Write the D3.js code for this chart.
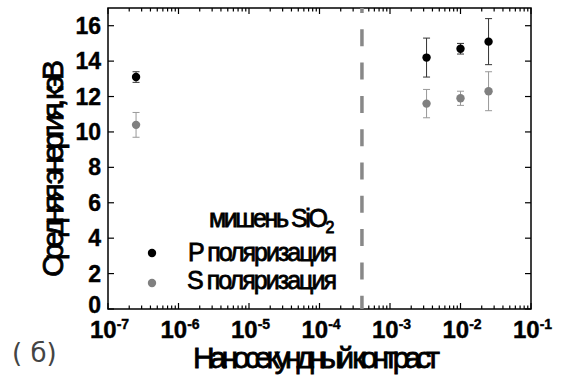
<!DOCTYPE html>
<html>
<head>
<meta charset="utf-8">
<script src="https://cdn.jsdelivr.net/npm/d3@7"></script>
<style>
  body { margin: 0; background: #fff; }
  svg { font-family: 'Liberation Sans', Arial, sans-serif; }
</style>
</head>
<body>
<svg id="chart" width="565" height="383"></svg>
<script>
// contrast values (x) and mean energies (keV)
const contrast = [2.5e-7, 3.3e-3, 1.0e-2, 2.5e-2];
const pEnergy = [13.1, 14.2, 14.7, 15.1];
const pErr = [0.3, 1.1, 0.3, 1.3];
const sEnergy = [10.4, 11.6, 11.9, 12.3];
const sErr = [0.7, 0.8, 0.4, 1.1];
const dividerX = 4e-4;
const yTicks = [0, 2, 4, 6, 8, 10, 12, 14, 16];
const xDecades = [-7, -6, -5, -4, -3, -2, -1];

const svg = d3.select('#chart');
const mLeft = 108, mRight = 531, mTop = 8, mBottom = 309;

const x = d3.scaleLog().domain([1e-7, 1e-1]).range([mLeft, mRight]);
const y = d3.scaleLinear().domain([0, 17]).range([mBottom, mTop]);

// minor ticks on log axis
const minor = [];
xDecades.slice(0, -1).forEach(e => {
  for (let m = 2; m <= 9; m++) minor.push(m * Math.pow(10, e));
});
const major = xDecades.map(e => Math.pow(10, e));

const g = svg.append('g');

// frame
g.append('rect')
  .attr('x', mLeft).attr('y', mTop)
  .attr('width', mRight - mLeft).attr('height', mBottom - mTop)
  .attr('fill', 'none').attr('stroke', '#000').attr('stroke-width', 1.5);

// x ticks bottom + top (inward)
const xt = g.append('g').attr('stroke', '#000').attr('stroke-width', 1.2);
major.forEach(v => {
  xt.append('line').attr('x1', x(v)).attr('x2', x(v)).attr('y1', mBottom).attr('y2', mBottom - 6);
  xt.append('line').attr('x1', x(v)).attr('x2', x(v)).attr('y1', mTop).attr('y2', mTop + 6);
});
minor.forEach(v => {
  xt.append('line').attr('x1', x(v)).attr('x2', x(v)).attr('y1', mBottom).attr('y2', mBottom - 3.5);
  xt.append('line').attr('x1', x(v)).attr('x2', x(v)).attr('y1', mTop).attr('y2', mTop + 3.5);
});

// y ticks left + right
yTicks.forEach(v => {
  xt.append('line').attr('x1', mLeft).attr('x2', mLeft + 6).attr('y1', y(v)).attr('y2', y(v));
  xt.append('line').attr('x1', mRight).attr('x2', mRight - 6).attr('y1', y(v)).attr('y2', y(v));
});

// y tick labels
g.append('g').selectAll('text').data(yTicks).join('text')
  .attr('x', mLeft - 7).attr('y', d => y(d) + (d === 0 ? 4 : 8))
  .attr('text-anchor', 'end')
  .attr('font-size', 23).attr('font-weight', 'bold')
  .attr('stroke', '#000').attr('stroke-width', 0.4)
  .text(d => d);

// x tick labels 10^n
const xl = g.append('g').selectAll('text').data(xDecades).join('text')
  .attr('x', d => x(Math.pow(10, d)) - 18).attr('y', 338)
  .attr('font-size', 24).attr('font-weight', 'bold')
  .attr('stroke', '#000').attr('stroke-width', 0.4);
xl.append('tspan').text('10');
xl.append('tspan').attr('font-size', 14).attr('dy', -9).text(d => d);

// dashed divider
g.append('line')
  .attr('x1', x(dividerX)).attr('x2', x(dividerX))
  .attr('y1', mTop).attr('y2', mBottom)
  .attr('stroke', '#888').attr('stroke-width', 3.5)
  .attr('stroke-dasharray', '17,16.3').attr('stroke-dashoffset', 12);

// series
function drawSeries(vals, errs, color, errColor) {
  const s = g.append('g');
  contrast.forEach((c, i) => {
    const cx = x(c);
    s.append('line').attr('x1', cx).attr('x2', cx)
      .attr('y1', y(vals[i] - errs[i])).attr('y2', y(vals[i] + errs[i]))
      .attr('stroke', errColor).attr('stroke-width', 1);
    [vals[i] - errs[i], vals[i] + errs[i]].forEach(e => {
      s.append('line').attr('x1', cx - 3.5).attr('x2', cx + 3.5)
        .attr('y1', y(e)).attr('y2', y(e))
        .attr('stroke', errColor).attr('stroke-width', 1);
    });
  });
  s.selectAll('circle').data(vals).join('circle')
    .attr('cx', (d, i) => x(contrast[i])).attr('cy', d => y(d))
    .attr('r', 4.2).attr('fill', color);
}
drawSeries(sEnergy, sErr, '#808080', '#999');
drawSeries(pEnergy, pErr, '#000', '#333');

// heavy, tightly spaced text like the original
function tight(sel) {
  return sel.attr('stroke', '#000').attr('stroke-width', 0.8).attr('lengthAdjust', 'spacing');
}

// legend
const leg = g.append('g');
const t0 = leg.append('text').attr('x', 209).attr('y', 227)
  .attr('font-size', 25).attr('letter-spacing', -2.4)
  .attr('stroke', '#000').attr('stroke-width', 0.8);
t0.append('tspan').text('мишень SiO');
t0.append('tspan').attr('font-size', 16).attr('dy', 6).attr('letter-spacing', 0).text('2');
leg.append('circle').attr('cx', 152).attr('cy', 253).attr('r', 4.2).attr('fill', '#000');
leg.append('circle').attr('cx', 152).attr('cy', 283).attr('r', 4.2).attr('fill', '#808080');
tight(leg.append('text').attr('x', 188).attr('y', 261).attr('font-size', 25)
  .attr('textLength', 149)).text('P поляризация');
tight(leg.append('text').attr('x', 187).attr('y', 289).attr('font-size', 25)
  .attr('textLength', 150)).text('S поляризация');

// axis titles
tight(g.append('text').attr('x', 193).attr('y', 368).attr('font-size', 30)
  .attr('textLength', 247))
  .text('Наносекундный контраст');
tight(g.append('text')
  .attr('transform', 'translate(63,277) rotate(-90)')
  .attr('font-size', 30)
  .attr('textLength', 217))
  .text('Средняя энергия, кэВ');

// panel label
g.append('text').attr('x', 12).attr('y', 362)
  .attr('fill', '#444').attr('font-family', 'DejaVu Sans, sans-serif')
  .attr('font-size', 26).text('( б)');
</script>
</body>
</html>
